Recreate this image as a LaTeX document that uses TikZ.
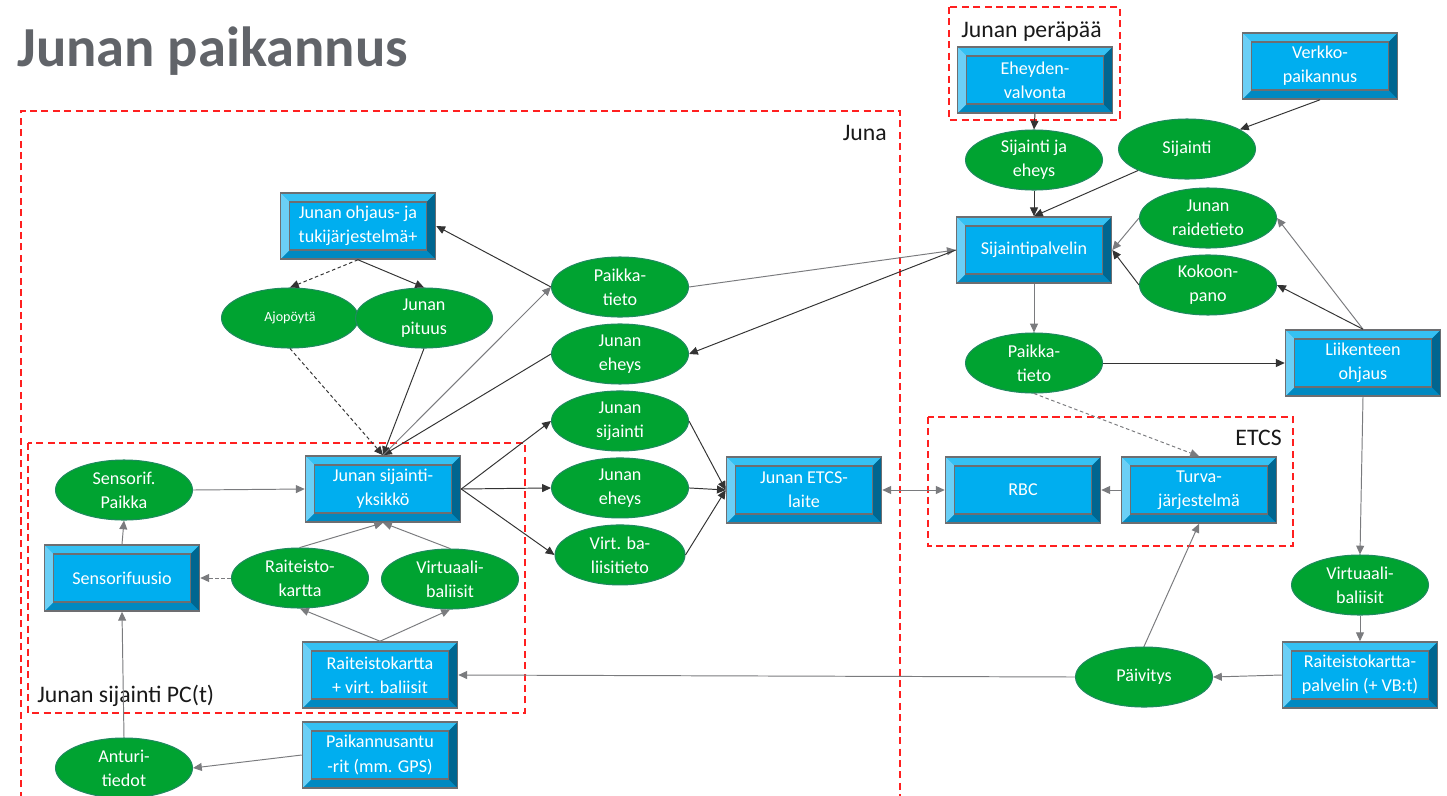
\documentclass[tikz,border=0pt]{standalone}
\usepackage{fontspec}
\setmainfont{Carlito}
\usepackage{xcolor}
\usepackage{tikz}
\usetikzlibrary{arrows.meta}
\usetikzlibrary{positioning}
\usetikzlibrary{shapes}

\definecolor{unitblue}{HTML}{00AEEF}
\definecolor{bevtop}{HTML}{35C1F3}
\definecolor{bevleft}{HTML}{6BCFF6}
\definecolor{bevbot}{HTML}{0089C1}
\definecolor{bevright}{HTML}{006690}
\definecolor{unitedge}{HTML}{6D6E71}
\definecolor{infogreen}{HTML}{00A331}
\definecolor{infoedge}{HTML}{1F8A5E}
\definecolor{grpred}{HTML}{FF2020}
\definecolor{linegray}{HTML}{7A7B7E}
\definecolor{titlegray}{HTML}{616469}

\newcommand{\nfont}{\fontsize{10.3}{13.8}\selectfont}
\newcommand{\lfont}{\fontsize{13.5}{16}\selectfont}
\newcommand{\bvw}{0.18cm}

\begin{document}
\begin{tikzpicture}[>={Triangle[length=5pt, width=4.5pt]}, x=0.02cm, y=-0.02cm,
	node distance=1.34cm, align=center,
	unit/.style={rectangle, draw=unitedge, line width=0.9pt, fill=unitblue, text=white, font=\nfont,
		minimum width=3.1cm, minimum height=1.32cm, inner sep=1pt,
		path picture={
			\coordinate (bvnw) at (path picture bounding box.north west);
			\coordinate (bvne) at (path picture bounding box.north east);
			\coordinate (bvsw) at (path picture bounding box.south west);
			\coordinate (bvse) at (path picture bounding box.south east);
			\fill [bevtop] (bvnw) -- (bvne) -- ([shift={(-\bvw,-\bvw)}]bvne) -- ([shift={(\bvw,-\bvw)}]bvnw) -- cycle;
			\fill [bevbot] (bvsw) -- (bvse) -- ([shift={(-\bvw,\bvw)}]bvse) -- ([shift={(\bvw,\bvw)}]bvsw) -- cycle;
			\fill [bevleft] (bvnw) -- (bvsw) -- ([shift={(\bvw,\bvw)}]bvsw) -- ([shift={(\bvw,-\bvw)}]bvnw) -- cycle;
			\fill [bevright] (bvne) -- (bvse) -- ([shift={(-\bvw,\bvw)}]bvse) -- ([shift={(-\bvw,-\bvw)}]bvne) -- cycle;
			\draw [unitedge, line width=0.8pt] ([shift={(\bvw,-\bvw)}]bvnw) rectangle ([shift={(-\bvw,\bvw)}]bvse);
		}},
	info/.style={ellipse, draw=infoedge, line width=0.6pt, fill=infogreen, text=white, font=\nfont,
		minimum width=2.74cm, minimum height=1.2cm, inner sep=0pt},
	grp/.style={draw=grpred, line width=0.9pt, dash pattern=on 4pt off 2.5pt},
	lbl/.style={inner sep=0pt, font=\lfont, text=black!90},
	blk/.style={draw=black!80, line width=0.55pt},
	gry/.style={draw=linegray, line width=0.55pt},
	dsh/.style={dash pattern=on 2pt off 1.5pt},
]
\fill [white] (0,0) rectangle (1447,795);
\useasboundingbox (0,0) rectangle (1447,795);
%
\node [anchor=base west, inner sep=0pt, font=\fontsize{32.2}{36}\selectfont\bfseries, text=titlegray] (title) at (17,66) {Junan paikannus};
%
\draw [grp] (21,810) |- (900,111) -- (900,810);
\node [lbl, anchor=base east] (junalbl) at (887,140) {Juna};
\draw [grp] (28,443) rectangle (525,713);
\node [lbl, anchor=base west] (pclbl) at (37,702) {Junan sijainti PC(t)};
\draw [grp] (949,7) rectangle (1120,120);
\node [lbl, anchor=base west] (perlbl) at (961,37) {Junan peräpää};
\draw [grp] (928,417) rectangle (1293,546);
\node [lbl, anchor=base east] (etcslbl) at (1282,445) {ETCS};
%
\node [unit] (ohj) at (358,226) {Junan ohjaus- ja\\tukijärjestelmä+};
\node [info, font=\fontsize{8}{10}\selectfont] (ajo) at (290,318) {Ajopöytä};
\node [info] (pit) at (424,318) {Junan\\pituus};
\node [unit] (yks) at (383,489) {Junan sijainti-\\yksikkö};
\node [info] (ptl) at (620,287) {Paikka-\\tieto};
\node [info] (ehy1) [below of=ptl]  {Junan\\eheys};
\node [info] (sij1) [below of=ehy1] {Junan\\sijainti};
\node [info] (ehy2) [below of=sij1] {Junan\\eheys};
\node [info, minimum width=2.6cm] (vbt) [below of=ehy2] {Virt. ba-\\liisitieto};
\node [unit] (etcsl) at (804,490) {Junan ETCS-\\laite};
%
\node [info] (sfp) at (124,490) {Sensorif.\\Paikka};
\node [unit] (sfu) at (122,578) {Sensorifuusio};
\node [info] (rk) at (300,578) {Raiteisto-\\kartta};
\node [info] (vb) at (450,579) {Virtuaali-\\baliisit};
\node [unit] (rkv) at (380,675) {Raiteistokartta\\+ virt. baliisit};
\node [unit] (gps) at (380,755) {Paikannusantu\\-rit (mm. GPS)};
\node [info] (ant) at (124,768) {Anturi-\\tiedot};
%
\node [unit] (ehv) at (1035,80) {Eheyden-\\valvonta};
\node [info] (sje) at (1034,160) {Sijainti ja\\eheys};
\node [unit] (verk) at (1320,66) {Verkko-\\paikannus};
\node [info] (sij2) at (1187,149) {Sijainti};
\node [unit] (spalv) at (1034,250) {Sijaintipalvelin};
\node [info] (raid) at (1208,218) {Junan\\raidetieto};
\node [info] (koko) [below of=raid] {Kokoon-\\pano};
\node [info] (ptr) at (1034,363) {Paikka-\\tieto};
\node [unit] (liik) at (1363,363) {Liikenteen\\ohjaus};
\node [unit] (rbc) at (1023,490) {RBC};
\node [unit] (turva) at (1199,490) {Turva-\\järjestelmä};
\node [info] (vbr) at (1360,585) {Virtuaali-\\baliisit};
\node [unit] (rkp) at (1360,675) {Raiteistokartta-\\palvelin (+ VB:t)};
\node [info] (paiv) at (1144,677) {Päivitys};
%
\draw [->, blk] (ptl.west) -- (ohj.east);
\draw [->, blk, dsh] (ohj.south) -- (ajo.north);
\draw [->, blk] (ohj.south) -- (pit.north);
\draw [->, blk, dsh] (ajo.south) -- (yks.north);
\draw [->, blk] (pit.south) -- (yks.north);
\draw [->, blk] (ehy1.west) -- (yks.north);
\draw [->, gry] (yks.north) -- (ptl.west);
\draw [->, gry] (ptl.east) -- (spalv.west);
\draw [->, blk] (spalv.west) -- (ehy1.east);
\draw [->, blk] (yks.east) -- (sij1.west);
\draw [->, blk] (yks.east) -- (ehy2.west);
\draw [->, blk] (yks.east) -- (vbt.west);
\draw [->, blk] (sij1.east) -- (etcsl.west);
\draw [->, blk] (ehy2.east) -- (etcsl.west);
\draw [->, blk] (vbt.east) -- (etcsl.west);
\draw [<->, gry] (etcsl.east) -- (rbc.west);
\draw [->, gry] (turva.west) -- (rbc.east);
%
\draw [->, gry] (sfp.east) -- (yks.west);
\draw [->, gry] (rk.north) -- (yks.south);
\draw [->, gry] (vb.north) -- (yks.south);
\draw [->, gry] (rkv.north) -- (rk.south);
\draw [->, gry] (rkv.north) -- (vb.south);
\draw [->, gry, dsh] (rk.west) -- (sfu.east);
\draw [->, gry] (sfu.north) -- (sfp.south);
\draw [->, gry] (ant.north) -- (sfu.south);
\draw [->, gry] (gps.west) -- (ant.east);
\draw [->, gry] (paiv.west) -- (rkv.east);
%
\draw [->, blk] (ehv.south) -- (sje.north);
\draw [->, blk] (sje.south) -- (spalv.north);
\draw [->, blk] (verk.south) -- (sij2);
\draw [->, blk] (sij2) -- (spalv.north);
\draw [->, gry] (raid.west) -- (spalv.east);
\draw [->, blk] (koko.west) -- (spalv.east);
\draw [->, gry] (liik.north) -- (raid.east);
\draw [->, blk] (liik.north) -- (koko.east);
\draw [->, gry] (spalv.south) -- (ptr.north);
\draw [->, blk] (ptr.east) -- (liik.west);
\draw [->, gry, dsh] (ptr.south) -- (turva.north);
\draw [->, gry] (liik.south) -- (vbr.north);
\draw [->, gry] (vbr.south) -- (rkp.north);
\draw [->, gry] (rkp.west) -- (paiv.east);
\draw [->, gry] (paiv.north) -- (turva.south);
\end{tikzpicture}
\end{document}
